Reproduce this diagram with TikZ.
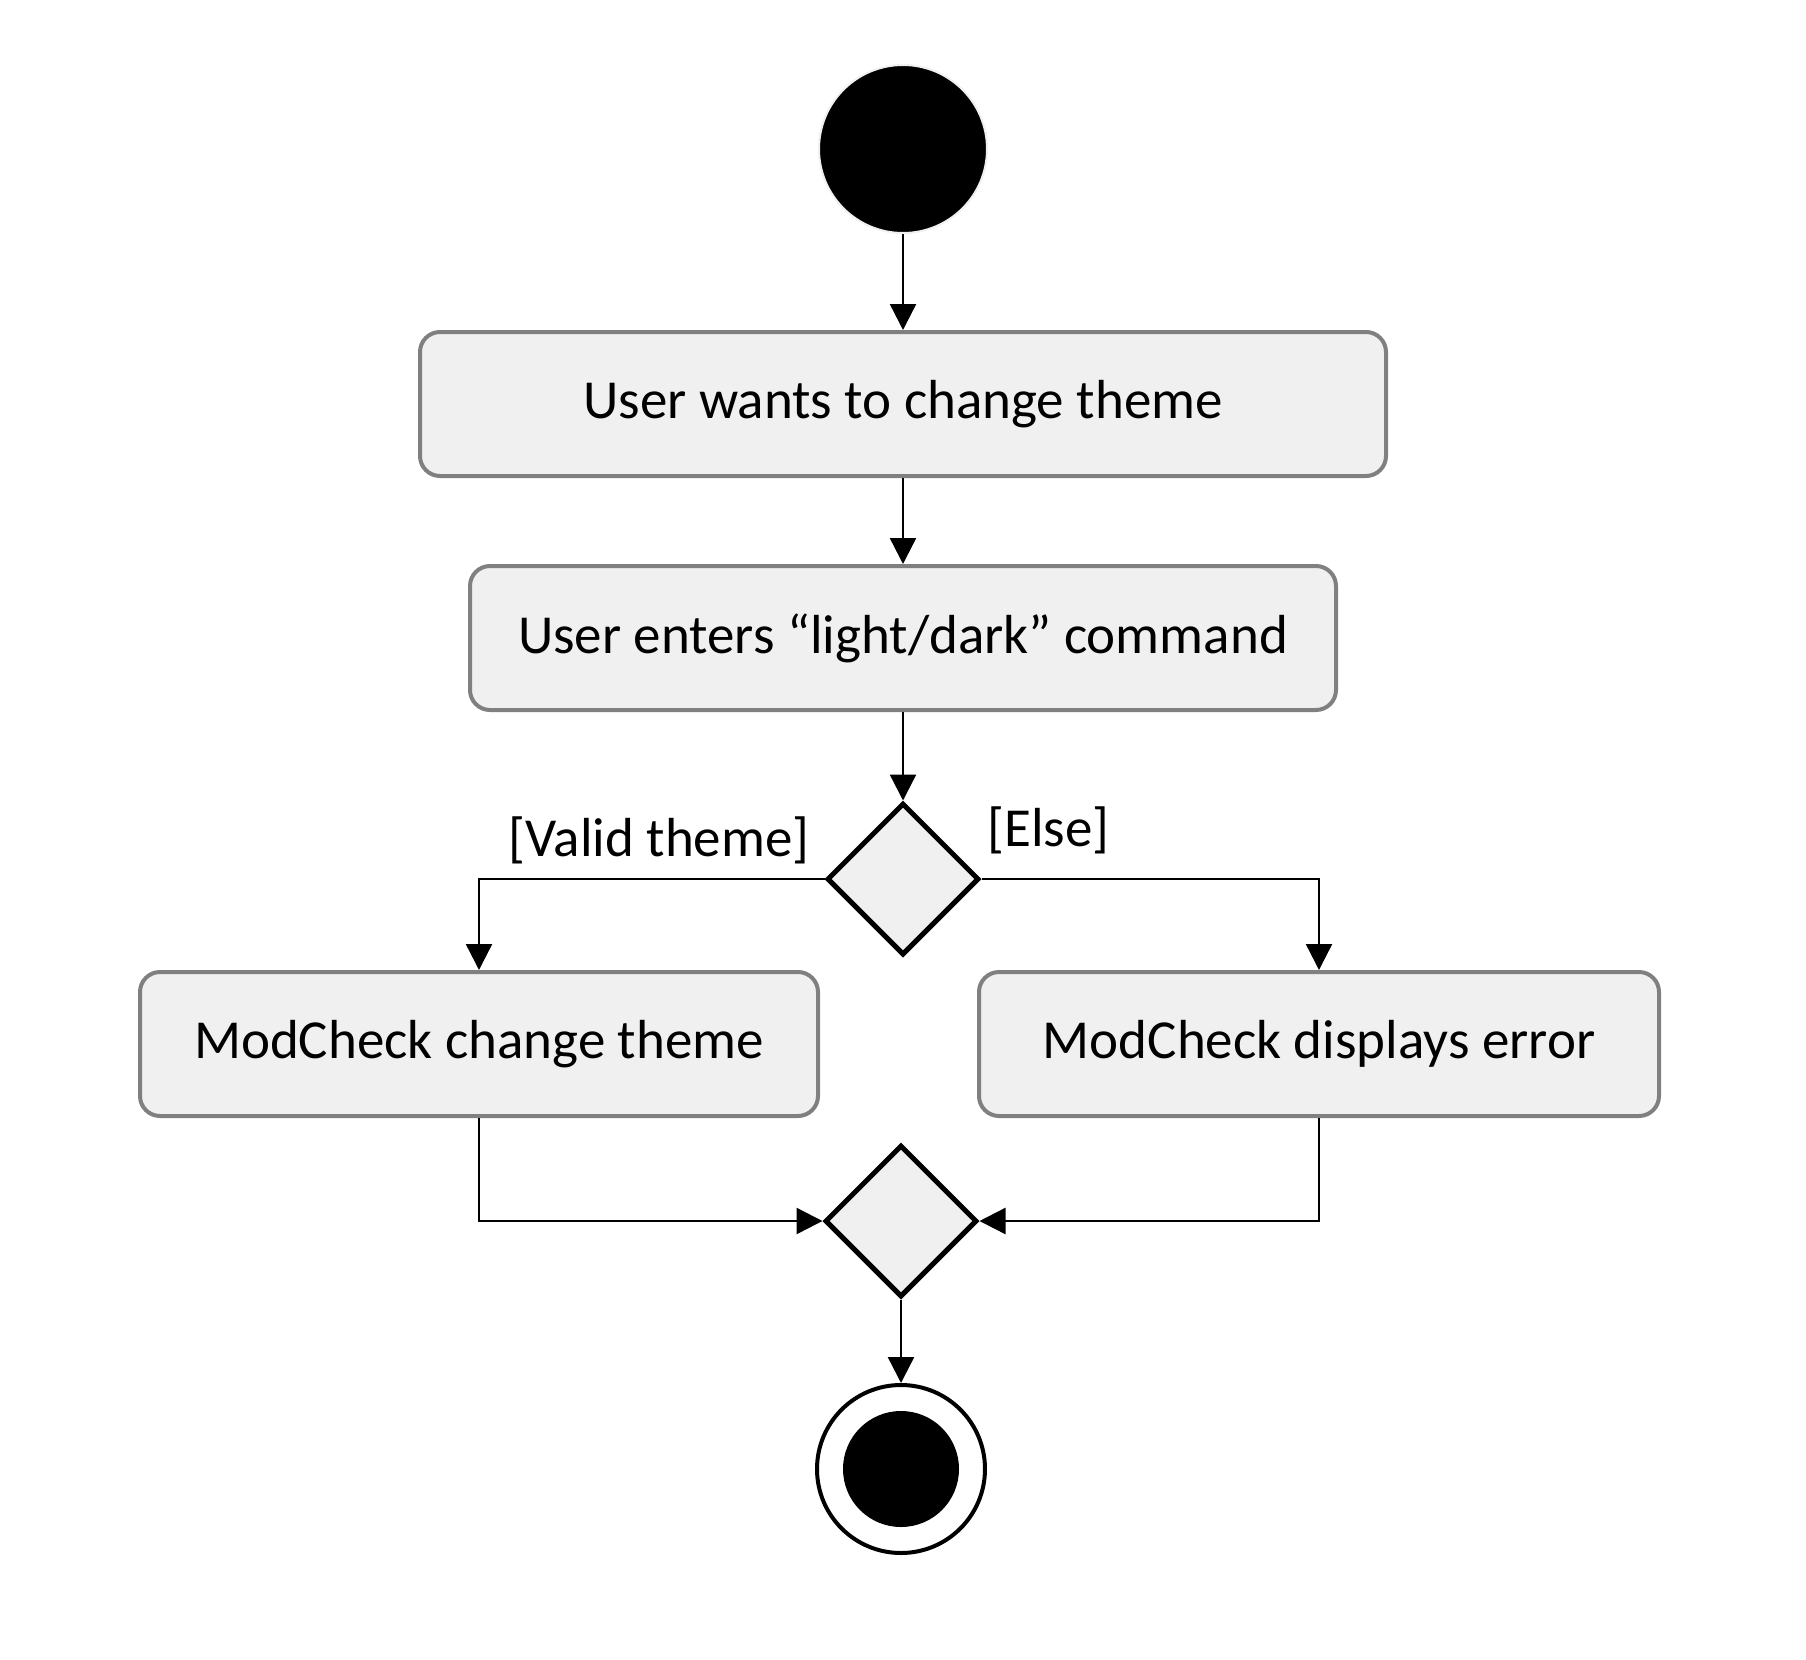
\documentclass[tikz,border=0pt]{standalone}
\usepackage{fontspec}
\setmainfont{Carlito}
\usetikzlibrary{arrows.meta,shapes.geometric}
\definecolor{boxfill}{RGB}{240,240,240}
\definecolor{boxline}{RGB}{128,128,128}
\tikzset{
  action/.style={draw=boxline,fill=boxfill,line width=2pt,rounded corners=10pt,
    minimum height=72pt,inner sep=0pt,font=\fontsize{27.5}{32}\selectfont},
  branch/.style={diamond,draw=black,fill=boxfill,line width=2.5pt,inner sep=0pt,minimum size=76pt},
  guard/.style={font=\fontsize{27.5}{32}\selectfont,inner sep=0pt},
  flow/.style={line width=1.2pt,-{Triangle[width=13pt,length=13pt]}}
}
\begin{document}
\begin{tikzpicture}[x=0.5pt,y=-0.5pt]
\useasboundingbox (0,0) rectangle (1806,1660);
\node[circle,fill=black,draw=boxfill,line width=1pt,minimum size=84pt,inner sep=0pt] (start) at (903,149) {};
\node[action,minimum width=483pt] (wants) at (903,404) {User wants to change theme};
\node[action,minimum width=433pt] (enters) at (903,638) {User enters “light/dark” command};
\node[branch] (valid) at (903,879) {};
\node[guard,anchor=east] (validlbl) at (810,840) {[Valid theme]};
\node[guard,anchor=west] (elselbl) at (987,830) {[Else]};
\node[action,minimum width=339pt] (change) at (479,1044) {ModCheck change theme};
\node[action,minimum width=340pt] (error) at (1319,1044) {ModCheck displays error};
\node[branch] (merge) at (901,1221) {};
\node[circle,draw=black,fill=white,line width=2pt,minimum size=84pt,inner sep=0pt] (final) at (901,1469) {};
\node[circle,fill=black,minimum size=58pt,inner sep=0pt] (finaldot) at (final) {};
\draw[flow] (start) -- (wants);
\draw[flow] (wants) -- (enters);
\draw[flow] (enters) -- (valid);
\draw[flow] (valid.west) -| (change.north);
\draw[flow] (valid.east) -| (error.north);
\draw[flow] (change.south) |- (merge.west);
\draw[flow] (error.south) |- (merge.east);
\draw[flow] (merge) -- (final);
\end{tikzpicture}
\end{document}
